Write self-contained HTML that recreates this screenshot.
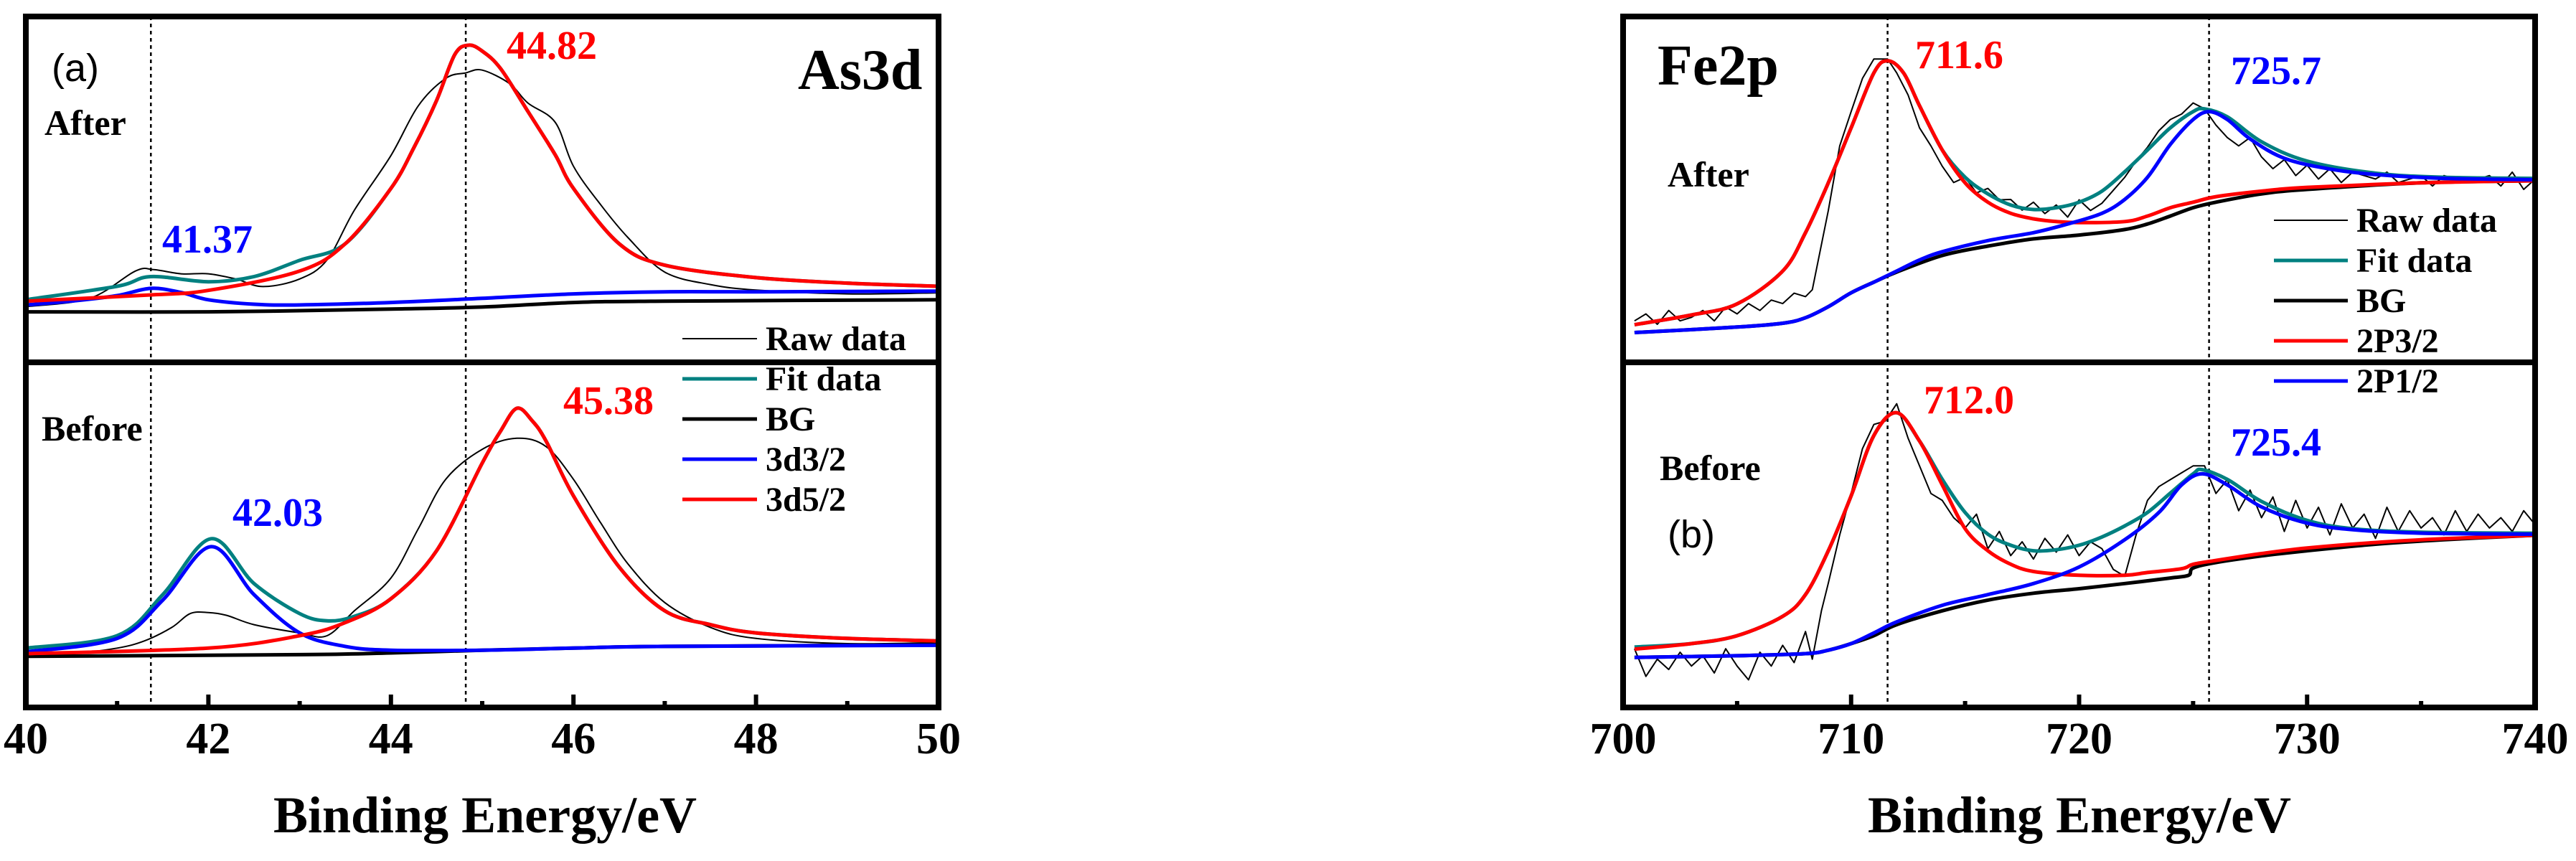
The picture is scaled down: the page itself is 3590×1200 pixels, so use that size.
<!DOCTYPE html>
<html><head><meta charset="utf-8"><style>
html,body{margin:0;padding:0;background:#fff;}
svg{display:block;font-family:"Liberation Serif",serif;}
</style></head><body>
<svg id="fig" width="3590" height="1200" viewBox="0 0 3590 1200" xmlns="http://www.w3.org/2000/svg"></svg>
<script>
// ===== Panel (a) As3d data (values: intensity a.u., 0-100 per sub-panel) =====
const asAfterRaw=[[40,16.1],[40.7,18.5],[41.2,26.4],[41.4,26.8],[41.7,25.6],[42,25.6],[42.3,24.1],[42.6,21.9],[43,24.1],[43.3,29.6],[43.6,44.0],[44,59.8],[44.3,74.2],[44.6,82.1],[44.82,83.7],[45,84.5],[45.3,80.6],[45.5,75.0],[45.8,69.4],[46,56.7],[46.3,45.5],[46.6,36.0],[47,26.1],[47.5,22.5],[48,20.9],[49,19.8],[50,20.1]];
const asAfterFit=[[40,18.1],[41,22.0],[41.37,24.8],[42,23.3],[42.5,24.8],[43,29.5],[43.5,34.3],[44,50.3],[44.25,62],[44.5,75.7],[44.7,89.0],[44.85,91.7],[45,90.0],[45.2,85],[45.5,72.6],[45.8,60],[46,50.3],[46.5,34.3],[47,28.1],[48,24.5],[49,22.9],[50,22.0]];
const asAfterBG=[[40,14.6],[42,14.6],[44,15.4],[45,16.0],[46,17.3],[47,17.7],[50,18.1]];
const asAfter32=[[40,16.6],[40.5,17.7],[41,19.3],[41.37,21.4],[41.7,20.2],[42,18.1],[42.5,16.8],[43,16.6],[44,17.3],[45,18.5],[46,19.8],[47,20.4],[48,20.4],[50,20.6]];
const asAfter52=[[40,17.7],[41.37,19.5],[42,20.8],[43,26.4],[43.5,34.3],[44,50.3],[44.25,62],[44.5,75.7],[44.7,89.0],[44.85,91.7],[45,90.0],[45.2,85],[45.5,72.6],[45.8,60],[46,50.3],[46.5,34.3],[47,28.1],[48,24.5],[49,22.9],[50,22.0]];
const asBeforeRaw=[[40,15.4],[40.5,15.6],[41,17.2],[41.3,19.3],[41.6,23.2],[41.8,27.2],[42,27.5],[42.2,26.7],[42.5,24.0],[43,21.6],[43.3,20.8],[43.6,28.0],[44,37.5],[44.3,51.8],[44.6,66.1],[45,74.8],[45.38,78.0],[45.7,75.6],[46,66.1],[46.3,53.4],[46.6,41.5],[47,30.4],[47.5,23.2],[48,20.0],[49,18.5],[50,18.8]];
const asBeforeFit=[[40,17.2],[41,20.8],[41.5,32.7],[42.03,48.9],[42.5,35.9],[43,27.2],[43.3,25.1],[43.6,26.4],[44,31.5],[44.5,45.4],[45,70.8],[45.2,80],[45.38,86.7],[45.55,83],[45.7,77.2],[46,61.3],[46.5,40.7],[47,28.0],[47.5,24.0],[48,21.6],[49,20.0],[50,19.3]];
const asBeforeBG=[[40,14.8],[43,15.3],[44,15.8],[45,16.6],[46,17.2],[47,17.7],[50,18.1]];
const asBefore32=[[40,16.1],[41,20.0],[41.5,31.1],[42.03,46.6],[42.5,32.7],[43,21.6],[43.5,17.7],[44,16.6],[45,16.6],[46,17.2],[47,17.7],[50,18.0]];
const asBefore52=[[40,15.6],[42,17.2],[43,20.8],[43.5,24.6],[44,31.5],[44.5,45.4],[45,70.8],[45.2,80],[45.38,86.7],[45.55,83],[45.7,77.2],[46,61.3],[46.5,40.7],[47,28.0],[47.5,24.0],[48,21.6],[49,20.0],[50,19.3]];
const asTicks=[40,42,44,46,48,50];
const asMinor=[41,43,45,47,49];
const asPeaks=[41.37,44.82];

// ===== Panel (b) Fe2p data =====
const feAfterRaw=[[700.5,12],[701,14],[701.5,11],[702,15],[702.5,12],[703,13],[703.5,15],[704,12],[704.5,16],[705,14],[705.5,17],[706,15],[706.5,18],[707,17],[707.5,20],[708,19],[708.3,21],[709,43.9],[709.5,62.6],[710,72.5],[710.5,82.1],[711,87.7],[711.6,87.7],[712,83.7],[712.5,77.3],[713,67.8],[713.5,62.6],[714,56.7],[714.5,52],[715,53.5],[715.5,49],[716,50.3],[716.5,47],[717,47.1],[717.5,44],[718,46.3],[718.5,43],[719,45.5],[719.5,42],[720,47],[720.5,43.9],[721,46],[722,53.5],[722.5,58.2],[723,62.2],[723.5,67.0],[724,70.2],[724.5,71.8],[725,75.0],[725.5,73.3],[726,68.6],[726.5,65],[727,62.6],[727.5,65],[728,59.4],[728.5,56],[729,58.6],[729.5,54],[730,57],[730.5,53],[731,56],[731.5,52],[732,55],[733,53],[733.5,55],[734,52],[735,54],[735.5,51],[736,54],[737,52],[738,54],[738.5,51],[739,55],[739.5,50],[740,53]];
const feAfterFit=[[700.5,10.9],[703,13.7],[705,16.9],[707,26.4],[708,37.5],[709,51.9],[710,67.8],[711,83.7],[711.6,87.2],[712.3,83.7],[713,74.2],[714,61.4],[715,53.5],[716,48.7],[717,45.5],[718,44.2],[719,44.7],[720,46.3],[721,49.5],[722,55.1],[723,61.4],[724,67.8],[725,72.5],[725.5,73.3],[726.5,71.0],[728,63.8],[730,58.2],[733,54.7],[736,53.5],[740,53.2]];
const feAfterBG=[[700.5,8.6],[705,10.2],[707,11.3],[708,12.9],[709,16.1],[710,20.1],[711,23.2],[712,26.1],[714,30.9],[716,33.6],[718,35.7],[720,36.8],[722,38.4],[723,40.0],[724,42.3],[725,44.7],[726,46.3],[728,48.7],[730,50.0],[735,51.9],[740,52.5]];
const feAfter12=[[700.5,8.6],[705,10.2],[707,11.3],[708,12.9],[709,16.1],[710,20.1],[711,23.2],[712,26.4],[713,29.6],[714,32.0],[716,35.2],[718,37.5],[719.5,40.0],[721,43.1],[722,47.1],[723,53.5],[724,63.0],[725,70.2],[725.7,72.5],[726.5,70.2],[727.5,64.6],[729,59.0],[731,55.9],[733,54.3],[736,53.2],[740,52.8]];
const feAfter32=[[700.5,10.9],[703,13.7],[705,16.9],[707,26.4],[708,37.5],[709,51.9],[710,67.8],[711,83.7],[711.6,87.2],[712.3,83.7],[713,74.2],[714,61.4],[715,51.9],[716,46.3],[717,43.1],[718,41.5],[719,40.7],[720,40.4],[722,40.7],[723,42.3],[724,44.7],[725,46.3],[726,47.9],[728,49.5],[730,50.6],[735,51.9],[740,52.5]];
const feBeforeRaw=[[700.5,17],[701,9],[701.5,14],[702,11],[702.5,16],[703,12],[703.5,15],[704,10],[704.5,17],[705,12],[705.5,8],[706,16],[706.5,12],[707,18],[707.5,13],[708,22],[708.3,14],[708.7,28],[709,36],[709.5,50],[710,62],[710.5,75],[711,82],[711.5,83],[712,88],[712.5,78],[713,70],[713.5,62],[714,60],[714.5,55],[715,52],[715.5,56],[716,46],[716.5,51],[717,44],[717.5,48],[718,43],[718.5,49],[719,45],[719.5,50],[720,44],[720.5,48],[721,46],[721.5,40],[722,38],[722.5,50],[723,60],[723.5,64],[724,66],[724.5,68],[725,70],[725.5,70],[726,62],[726.5,66],[727,57],[727.5,63],[728,55],[728.5,61],[729,51],[729.5,60],[730,52],[730.5,58],[731,50],[731.5,59],[732,52],[732.5,56],[733,49],[733.5,58],[734,51],[734.5,57],[735,52],[735.5,55],[736,50],[736.5,57],[737,51],[737.5,56],[738,52],[738.5,55],[739,51],[739.5,57],[740,53]];
const feBeforeFit=[[700.5,17.5],[703,18.5],[705,20.8],[707,26.4],[708,32.7],[709,45.4],[710,61.3],[711,78.8],[712,85.4],[713,77.2],[714,66.1],[715,56.5],[716,50.2],[717,47.0],[718,45.4],[719,45.7],[720,47.0],[721,49.4],[722,52.6],[723,56.5],[724,62.1],[725,67.7],[725.4,68.9],[726.5,66.1],[728,59.7],[730,54.2],[732,51.8],[735,50.8],[740,50.5]];
const feBeforeBG=[[700.5,14.5],[705,15.0],[708,15.6],[709,16.6],[710,18.5],[711,20.8],[712,24.0],[714,28.0],[716,31.1],[718,33.1],[720,34.4],[722,35.9],[724,37.5],[724.8,38.3],[725,40.4],[726,42.0],[728,43.9],[730,45.4],[733,47.3],[736,48.6],[740,49.9]];
const feBefore12=[[700.5,14.5],[705,15.0],[708,15.6],[709,16.6],[710,18.5],[711,21.6],[712,24.8],[714,29.6],[716,32.7],[718,35.9],[720,40.7],[722,48.6],[723.5,56.5],[724.5,64.5],[725.4,67.7],[726.5,64.5],[728,58.1],[730,53.4],[732,51.5],[735,50.5],[740,50.2]];
const feBefore32=[[700.5,16.9],[703,18.5],[705,20.8],[707,26.4],[708,32.7],[709,45.4],[710,61.3],[711,78.8],[712,85.4],[713,77.2],[714,64.5],[715,51.8],[716,45.4],[717,41.5],[718,39.4],[720,38.3],[722,38.3],[723,39.1],[724.5,40.2],[725,41.5],[726,42.6],[728,44.6],[730,46.2],[733,47.8],[736,48.9],[740,49.9]];
const feTicks=[700,710,720,730,740];
const feMinor=[705,715,725,735];
const fePeaks=[711.6,725.7];

const NS="http://www.w3.org/2000/svg";
const svg=document.getElementById('fig');
function mk(tag,attrs,parent){const e=document.createElementNS(NS,tag);for(const k in attrs)e.setAttribute(k,attrs[k]);(parent||svg).appendChild(e);return e;}
function txt(s,x,y,size,fill,anchor,weight,family,parent){const t=mk('text',{x:x,y:y,'font-size':size,fill:fill,'text-anchor':anchor||'start','font-weight':weight||'bold','font-family':family||'"Liberation Serif",serif'},parent);t.textContent=s;return t;}
function smooth(pts){let d='M'+pts[0][0].toFixed(1)+','+pts[0][1].toFixed(1);for(let i=0;i<pts.length-1;i++){const p0=pts[Math.max(0,i-1)],p1=pts[i],p2=pts[i+1],p3=pts[Math.min(pts.length-1,i+2)];const c1x=p1[0]+(p2[0]-p0[0])/6,c1y=p1[1]+(p2[1]-p0[1])/6,c2x=p2[0]-(p3[0]-p1[0])/6,c2y=p2[1]-(p3[1]-p1[1])/6;d+=' C'+c1x.toFixed(1)+','+c1y.toFixed(1)+' '+c2x.toFixed(1)+','+c2y.toFixed(1)+' '+p2[0].toFixed(1)+','+p2[1].toFixed(1);}return d;}
function poly(pts){return 'M'+pts.map(p=>p[0].toFixed(1)+','+p[1].toFixed(1)).join(' L');}

function panel(cfg){
  const g=mk('g',{});
  
  
  const L=cfg.left,R=cfg.right,T=23,M=505,B=986;
  const xs=v=>L+(v-cfg.xmin)/(cfg.xmax-cfg.xmin)*(R-L);
  const ysA=v=>M-v/100*(M-T);
  const ysB=v=>B-v/100*(B-M);
  const cid=cfg.id;
  const defs=mk('defs',{},g);
  const c1=mk('clipPath',{id:cid+'A'},defs);mk('rect',{x:L,y:T,width:R-L,height:M-T},c1);
  const c2=mk('clipPath',{id:cid+'B'},defs);mk('rect',{x:L,y:M,width:R-L,height:B-M},c2);
  cfg.peaks.forEach(p=>{const l=mk('line',{x1:xs(p),x2:xs(p),y1:T,y2:B,stroke:'#000','stroke-width':2.5,'stroke-dasharray':'5,5'},g);
    
    });
  function draw(series,ys,clip,sub){
    series.forEach(s=>{const pts=s.data.map(d=>[xs(d[0]),ys(d[1])]);
      const p=mk('path',{d:s.raw?poly(pts):smooth(pts),fill:'none',stroke:s.color,'stroke-width':s.w,'stroke-linejoin':'round','clip-path':'url(#'+clip+')'},g);
      
      });
  }
  draw(cfg.after,ysA,cid+'A','after');
  draw(cfg.before,ysB,cid+'B','before');
  const fr=mk('rect',{x:L,y:T,width:R-L,height:B-T,fill:'none',stroke:'#000','stroke-width':8},g);
  
  
  const dv=mk('line',{x1:L,x2:R,y1:M,y2:M,stroke:'#000','stroke-width':8},g);
  
  
  cfg.ticks.forEach(t=>{const tk=mk('line',{x1:xs(t),x2:xs(t),y1:B,y2:B-18,stroke:'#000','stroke-width':6},g);
    
    
    const lb=txt(String(t),xs(t),1050,62,'#000','middle','bold',null,g);
    
    });
  cfg.minor.forEach(t=>{const tk=mk('line',{x1:xs(t),x2:xs(t),y1:B,y2:B-9,stroke:'#000','stroke-width':6},g);
    
    });
  const xt=txt('Binding Energy/eV',cfg.titleX,1160,72,'#000','middle','bold',null,g);
  
  
  cfg.legend.forEach((e,i)=>{const y=cfg.legY+i*cfg.legStep;
    const l=mk('line',{x1:cfg.legX,x2:cfg.legX+cfg.legLen,y1:y,y2:y,stroke:e[1],'stroke-width':e[2]},g);
    
    
    const t=txt(e[0],cfg.legX+cfg.legLen+12,y+16,48,'#000','start','bold',null,g);
    
    });
  cfg.labels.forEach(a=>{const t=txt(a[0],a[1],a[2],a[3],a[4],'start',a[6]||'bold',a[5]||null,g);
    
    });
}
const TEAL='#008080',BLUE='#0000ff',RED='#ff0000',SANS='"Liberation Sans",sans-serif';
panel({name:'as3d-panel',id:'pa',left:36,right:1308,xmin:40,xmax:50,ticks:asTicks,minor:asMinor,peaks:asPeaks,titleX:676,
  after:[{key:'raw',data:asAfterRaw,color:'#000',w:2,raw:false},{key:'fit',data:asAfterFit,color:TEAL,w:5},{key:'bg',data:asAfterBG,color:'#000',w:5},{key:'3d3-2',data:asAfter32,color:BLUE,w:5},{key:'3d5-2',data:asAfter52,color:RED,w:5}],
  before:[{key:'raw',data:asBeforeRaw,color:'#000',w:2},{key:'fit',data:asBeforeFit,color:TEAL,w:5},{key:'bg',data:asBeforeBG,color:'#000',w:5},{key:'3d3-2',data:asBefore32,color:BLUE,w:5},{key:'3d5-2',data:asBefore52,color:RED,w:5}],
  legX:951,legLen:104,legY:472,legStep:56,
  legend:[['Raw data','#000',2],['Fit data',TEAL,5],['BG','#000',5],['3d3/2',BLUE,5],['3d5/2',RED,5]],
  labels:[['(a)',72,113,54,'#000',SANS,'normal','panel-letter'],['As3d',1112,124,80,'#000',null,'bold','panel-title'],['After',62,188,50,'#000',null,'bold','after-label'],['Before',58,614,50,'#000',null,'bold','before-label'],
    ['44.82',706,82,56,RED,null,'bold','peak-label-44-82'],['41.37',226,352,56,BLUE,null,'bold','peak-label-41-37'],['45.38',785,577,56,RED,null,'bold','peak-label-45-38'],['42.03',324,733,56,BLUE,null,'bold','peak-label-42-03']]
});
panel({name:'fe2p-panel',id:'pb',left:2262,right:3533,xmin:700,xmax:740,ticks:feTicks,minor:feMinor,peaks:fePeaks,titleX:2898,
  after:[{key:'raw',data:feAfterRaw,color:'#000',w:2,raw:true},{key:'fit',data:feAfterFit,color:TEAL,w:5},{key:'bg',data:feAfterBG,color:'#000',w:5},{key:'2p3-2',data:feAfter32,color:RED,w:5},{key:'2p1-2',data:feAfter12,color:BLUE,w:5}],
  before:[{key:'raw',data:feBeforeRaw,color:'#000',w:2,raw:true},{key:'fit',data:feBeforeFit,color:TEAL,w:5},{key:'bg',data:feBeforeBG,color:'#000',w:5},{key:'2p3-2',data:feBefore32,color:RED,w:5},{key:'2p1-2',data:feBefore12,color:BLUE,w:5}],
  legX:3169,legLen:103,legY:307,legStep:56,
  legend:[['Raw data','#000',2],['Fit data',TEAL,5],['BG','#000',5],['2P3/2',RED,5],['2P1/2',BLUE,5]],
  labels:[['Fe2p',2310,118,80,'#000',null,'bold','panel-title'],['After',2324,260,50,'#000',null,'bold','after-label'],['Before',2313,669,50,'#000',null,'bold','before-label'],['(b)',2324,763,54,'#000',SANS,'normal','panel-letter'],
    ['711.6',2669,95,56,RED,null,'bold','peak-label-711-6'],['725.7',3109,117,56,BLUE,null,'bold','peak-label-725-7'],['712.0',2681,576,56,RED,null,'bold','peak-label-712-0'],['725.4',3109,635,56,BLUE,null,'bold','peak-label-725-4']]
});
</script>
</body></html>
